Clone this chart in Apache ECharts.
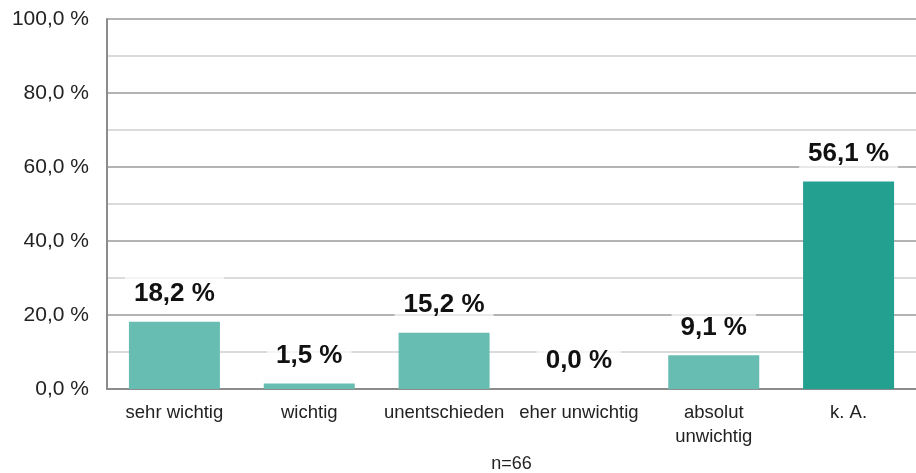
<!DOCTYPE html>
<html style="height: 100%">

<head>
  <meta charset="UTF-8" />
  <title>Wichtigkeit</title>
  <script src="https://cdn.jsdelivr.net/npm/echarts@6/dist/echarts.min.js"></script>
</head>

<body style="height: 100%; margin: 0; background: #fff">
  <div id="main" style="width: 916px; height: 473px"></div>
  <script>
    const categories = ['sehr wichtig', 'wichtig', 'unentschieden', 'eher unwichtig', 'absolut\nunwichtig', 'k. A.'];
    const values = [18.2, 1.5, 15.2, 0.0, 9.1, 56.1];
    const sampleNote = 'n=66';

    const chart = echarts.init(document.getElementById('main'));

    const fmt = v => v.toFixed(1).replace('.', ',') + ' %';
    const font = 'Liberation Sans, Arial, sans-serif';

    const option = {
      animation: false,
      textStyle: { fontFamily: font },
      grid: { left: 107, right: 0, top: 19, bottom: 84, outerBoundsMode: 'none', containLabel: false },
      xAxis: {
        type: 'category',
        data: categories,
        name: sampleNote,
        nameLocation: 'middle',
        nameGap: 66,
        nameTextStyle: { fontSize: 18, color: '#222', fontFamily: font },
        axisLine: { lineStyle: { color: '#8c8c8c', width: 2 } },
        axisTick: { show: false },
        axisLabel: {
          fontSize: 18.5,
          color: '#222',
          margin: 12,
          lineHeight: 24,
          interval: 0,
          fontFamily: font
        }
      },
      yAxis: {
        type: 'value',
        min: 0,
        max: 100,
        interval: 20,
        axisLine: { show: true, lineStyle: { color: '#8c8c8c', width: 2 } },
        axisTick: { show: false },
        axisLabel: {
          formatter: v => fmt(v),
          fontSize: 21,
          color: '#222',
          margin: 18,
          fontFamily: font
        },
        splitLine: { lineStyle: { color: '#9a9a9a', width: 1.5 } },
        minorTick: { show: false, splitNumber: 2 },
        minorSplitLine: { show: true, lineStyle: { color: '#cfcfcf', width: 1.5 } }
      },
      series: [
        {
          type: 'bar',
          barWidth: 91,
          data: values.map((v, i) => ({
            value: v,
            itemStyle: { color: categories[i] === 'k. A.' ? '#23a08f' : '#67bdb2' }
          })),
          label: {
            show: true,
            position: 'top',
            distance: 10,
            formatter: p => fmt(p.value),
            fontSize: 26,
            fontWeight: 'bold',
            lineHeight: 28,
            color: '#111',
            fontFamily: font,
            backgroundColor: 'rgba(255,255,255,0.7)',
            padding: [4, 9]
          }
        }
      ]
    };

    chart.setOption(option);
  </script>
</body>

</html>
